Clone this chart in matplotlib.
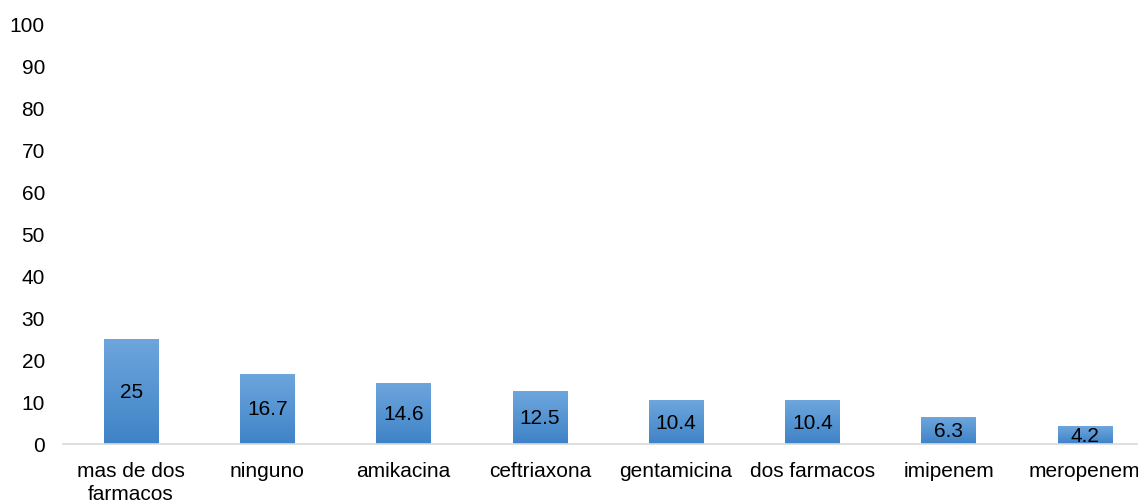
import matplotlib
matplotlib.use("Agg")
import matplotlib.pyplot as plt
import numpy as np
from matplotlib.colors import LinearSegmentedColormap

categories = ["mas de dos\nfarmacos", "ninguno", "amikacina", "ceftriaxona",
              "gentamicina", "dos farmacos", "imipenem", "meropenem"]
values = [25, 16.7, 14.6, 12.5, 10.4, 10.4, 6.3, 4.2]
value_labels = ["25", "16.7", "14.6", "12.5", "10.4", "10.4", "6.3", "4.2"]
y_ticks = list(range(0, 101, 10))

plt.rcParams["font.family"] = ["Liberation Sans", "DejaVu Sans"]
FS = 15

fig = plt.figure(figsize=(11.38, 5.02), dpi=100)
ax = fig.add_axes([63 / 1138, 57 / 502, 1090 / 1138, 421 / 502])

x = np.arange(len(categories))
bars = ax.bar(x, values, width=0.4, color="#5b9bd5", edgecolor="none", zorder=2)

# vertical gradient fill for each bar (light at top, darker at bottom)
cmap = LinearSegmentedColormap.from_list("barfill", ["#3e83c7", "#6ea6dd"])
grad = np.linspace(0, 1, 256).reshape(-1, 1)
for b in bars:
    x0, y0 = b.get_x(), b.get_y()
    w, h = b.get_width(), b.get_height()
    im = ax.imshow(grad, cmap=cmap, origin="lower", aspect="auto",
                   extent=(x0, x0 + w, y0, y0 + h), zorder=3)
    im.set_clip_path(b)

for xi, v, lab in zip(x, values, value_labels):
    ax.text(xi, v / 2, lab, ha="center", va="center", fontsize=FS,
            color="black", zorder=4)

ax.set_xlim(-0.5, len(categories) - 0.5)
ax.set_ylim(0, 100)
ax.set_yticks(y_ticks)
ax.set_xticks(x)
ax.set_xticklabels(categories, fontsize=FS, linespacing=1.3)
ax.tick_params(axis="y", labelsize=FS, length=0, pad=13)
ax.tick_params(axis="x", length=0, pad=12)

for s in ["top", "right", "left"]:
    ax.spines[s].set_visible(False)
ax.spines["bottom"].set_color("#d9d9d9")
ax.spines["bottom"].set_linewidth(1.2)
ax.spines["bottom"].set_zorder(5)

fig.savefig("out.png", dpi=100)
